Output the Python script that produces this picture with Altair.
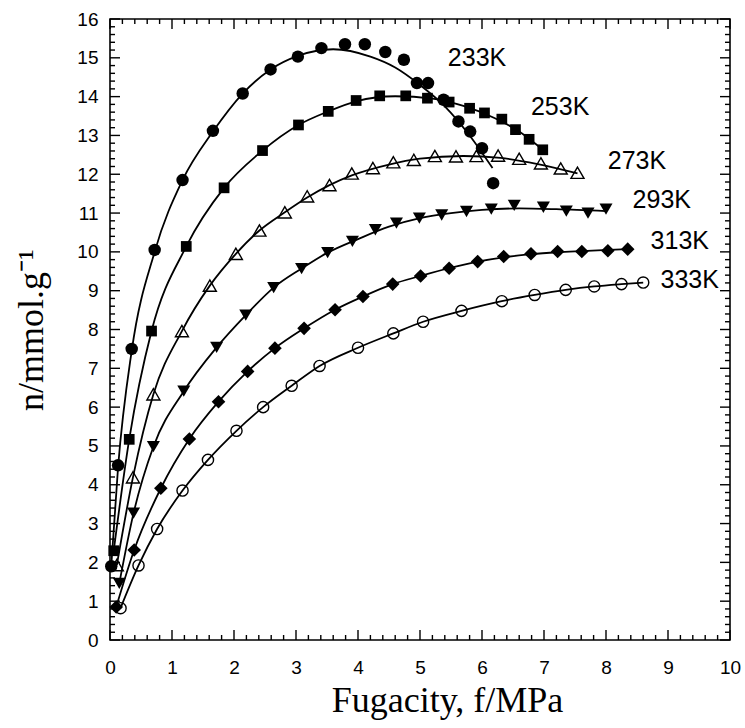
import altair as alt
import pandas as pd

# Adsorption isotherms: excess amount adsorbed vs. fugacity at six temperatures
SERIES = ["233K", "253K", "273K", "293K", "313K", "333K"]

F_233 = [0.02, 0.13, 0.35, 0.72, 1.17, 1.66, 2.14, 2.59, 3.03, 3.41, 3.79, 4.11, 4.44, 4.74, 4.95, 5.13, 5.38, 5.62, 5.81, 6.0, 6.18]
N_233 = [1.9, 4.5, 7.5, 10.05, 11.85, 13.12, 14.08, 14.7, 15.03, 15.25, 15.35, 15.35, 15.15, 14.95, 14.35, 14.35, 13.92, 13.36, 13.1, 12.67, 11.77]

F_253 = [0.06, 0.31, 0.67, 1.23, 1.84, 2.46, 3.04, 3.52, 3.97, 4.35, 4.77, 5.12, 5.47, 5.8, 6.04, 6.32, 6.54, 6.76, 6.98]
N_253 = [2.3, 5.17, 7.96, 10.14, 11.65, 12.61, 13.27, 13.62, 13.9, 14.02, 14.02, 13.96, 13.86, 13.7, 13.58, 13.42, 13.15, 12.9, 12.63]

F_273 = [0.11, 0.37, 0.7, 1.16, 1.61, 2.03, 2.41, 2.82, 3.18, 3.54, 3.9, 4.24, 4.57, 4.9, 5.24, 5.58, 5.91, 6.26, 6.6, 6.95, 7.27, 7.54]
N_273 = [1.93, 4.19, 6.33, 7.96, 9.13, 9.95, 10.55, 11.02, 11.43, 11.72, 12.02, 12.16, 12.31, 12.37, 12.47, 12.46, 12.47, 12.48, 12.4, 12.28, 12.15, 12.04]

F_293 = [0.15, 0.38, 0.7, 1.19, 1.72, 2.19, 2.64, 3.09, 3.51, 3.91, 4.28, 4.62, 4.99, 5.35, 5.75, 6.15, 6.52, 6.99, 7.36, 7.71, 8.0]
N_293 = [1.46, 3.27, 4.98, 6.41, 7.54, 8.37, 9.08, 9.57, 9.98, 10.27, 10.57, 10.74, 10.87, 10.95, 11.04, 11.1, 11.2, 11.15, 11.05, 11.0, 11.1]

F_313 = [0.1, 0.39, 0.82, 1.28, 1.75, 2.22, 2.66, 3.13, 3.63, 4.08, 4.56, 5.01, 5.47, 5.93, 6.35, 6.79, 7.22, 7.61, 8.03, 8.35]
N_313 = [0.85, 2.32, 3.91, 5.18, 6.14, 6.92, 7.52, 8.03, 8.51, 8.85, 9.17, 9.38, 9.58, 9.75, 9.88, 9.95, 10.01, 10.01, 10.03, 10.07]

F_333 = [0.17, 0.46, 0.76, 1.17, 1.58, 2.04, 2.47, 2.93, 3.38, 4.0, 4.57, 5.05, 5.67, 6.32, 6.85, 7.35, 7.81, 8.25, 8.6]
N_333 = [0.82, 1.92, 2.86, 3.85, 4.64, 5.39, 6.0, 6.55, 7.06, 7.53, 7.9, 8.2, 8.48, 8.73, 8.89, 9.02, 9.11, 9.17, 9.21]

# Smooth fitted curves, one per temperature
FIT_233_F = [0.02, 0.13, 0.35, 0.72, 1.17, 1.66, 2.14, 2.59, 3.03, 3.6, 4.2, 4.6, 5.0, 5.4, 5.8, 6.17]
FIT_233_N = [1.9, 4.45, 7.45, 10.0, 11.85, 13.1, 14.08, 14.7, 15.05, 15.22, 15.03, 14.75, 14.3, 13.75, 13.0, 12.16]

FIT_253_F = [0.06, 0.31, 0.67, 1.23, 1.84, 2.46, 3.04, 3.52, 3.97, 4.6, 5.2, 5.7, 6.2, 6.6, 6.98]
FIT_253_N = [2.3, 5.17, 7.96, 10.14, 11.65, 12.61, 13.27, 13.62, 13.88, 14.01, 13.95, 13.76, 13.45, 13.1, 12.63]

FIT_273_F = [0.11, 0.37, 0.7, 1.16, 1.61, 2.03, 2.41, 2.82, 3.18, 3.54, 3.9, 4.5, 5.0, 5.7, 6.3, 6.9, 7.54]
FIT_273_N = [1.93, 4.19, 6.33, 7.96, 9.13, 9.95, 10.55, 11.02, 11.4, 11.72, 11.97, 12.25, 12.4, 12.47, 12.42, 12.26, 12.02]

FIT_293_F = [0.15, 0.38, 0.7, 1.19, 1.72, 2.19, 2.64, 3.09, 3.51, 4.0, 4.5, 5.0, 5.5, 6.0, 6.6, 7.2, 8.0]
FIT_293_N = [1.46, 3.27, 4.98, 6.41, 7.54, 8.37, 9.08, 9.57, 9.98, 10.33, 10.65, 10.87, 11.0, 11.08, 11.12, 11.1, 11.05]

FIT_313_F = [0.1, 0.39, 0.82, 1.28, 1.75, 2.22, 2.66, 3.13, 3.63, 4.08, 4.56, 5.01, 5.47, 5.93, 6.35, 6.79, 7.22, 7.61, 8.03, 8.35]
FIT_313_N = [0.85, 2.32, 3.91, 5.18, 6.14, 6.92, 7.52, 8.03, 8.51, 8.85, 9.17, 9.38, 9.58, 9.75, 9.86, 9.94, 9.99, 10.02, 10.05, 10.07]

FIT_333_F = F_333
FIT_333_N = N_333

# Series labels placed inside the plot
LABEL_F = [5.92, 7.26, 8.5, 8.9, 9.19, 9.35]
LABEL_N = [15.0, 13.74, 12.35, 11.34, 10.28, 9.28]

X_MAJOR = list(range(0, 11))
Y_MAJOR = list(range(0, 17))
X_MINOR = [round(i * 0.2, 1) for i in range(0, 51) if i % 5]
Y_MINOR = [round(i * 0.2, 1) for i in range(0, 81) if i % 5]

W, H = 620, 621
X_DOM, Y_DOM = (0, 10), (0, 16)

measured = {
    "233K": (F_233, N_233),
    "253K": (F_253, N_253),
    "273K": (F_273, N_273),
    "293K": (F_293, N_293),
    "313K": (F_313, N_313),
    "333K": (F_333, N_333),
}
fits = {
    "233K": (FIT_233_F, FIT_233_N),
    "253K": (FIT_253_F, FIT_253_N),
    "273K": (FIT_273_F, FIT_273_N),
    "293K": (FIT_293_F, FIT_293_N),
    "313K": (FIT_313_F, FIT_313_N),
    "333K": (FIT_333_F, FIT_333_N),
}

pts = pd.DataFrame(
    [(s, f, n) for s in SERIES for f, n in zip(*measured[s])],
    columns=["series", "f", "n"],
)
curves = pd.DataFrame(
    [(s, f, n) for s in SERIES for f, n in zip(*fits[s])],
    columns=["series", "f", "n"],
)
labels = pd.DataFrame({"series": SERIES, "f": LABEL_F, "n": LABEL_N})

XS = alt.Scale(domain=list(X_DOM), nice=False, zero=False)
YS = alt.Scale(domain=list(Y_DOM), nice=False, zero=False)

TITLE_FONT = "Liberation Serif"
LABEL_FONT = "Liberation Sans"

# Tick lengths in pixels, converted to data units along the crossing axis
PX_X = (X_DOM[1] - X_DOM[0]) / W
PX_Y = (Y_DOM[1] - Y_DOM[0]) / H


def tick_table(vals, lo, hi, inward):
    """Segments [lo, lo+inward] and [hi-inward, hi] at each tick value."""
    rows = []
    for v in vals:
        rows.append((v, lo, lo + inward))
        rows.append((v, hi - inward, hi))
    return pd.DataFrame(rows, columns=["v", "a", "b"])


def x_ticks(vals, length):
    d = tick_table(vals, Y_DOM[0], Y_DOM[1], length * PX_Y)
    return alt.Chart(d).mark_rule(color="black", strokeWidth=1.4).encode(
        x=alt.X("v:Q", scale=XS, axis=None),
        y=alt.Y("a:Q", scale=YS, axis=None),
        y2="b:Q",
    )


def y_ticks(vals, length):
    d = tick_table(vals, X_DOM[0], X_DOM[1], length * PX_X)
    return alt.Chart(d).mark_rule(color="black", strokeWidth=1.4).encode(
        y=alt.Y("v:Q", scale=YS, axis=None),
        x=alt.X("a:Q", scale=XS, axis=None),
        x2="b:Q",
    )


tick_marks = [x_ticks(X_MAJOR, 10), x_ticks(X_MINOR, 5), y_ticks(Y_MAJOR, 10), y_ticks(Y_MINOR, 5)]

# Fitted lines carry the labelled axes (bottom, left)
lines = alt.Chart(curves).mark_line(
    color="black", strokeWidth=1.8, interpolate="monotone"
).encode(
    x=alt.X("f:Q", scale=XS, axis=alt.Axis(
        orient="bottom", values=X_MAJOR, ticks=False, domain=False, grid=False,
        labelFlush=False, labelFont=LABEL_FONT, labelFontSize=19, labelColor="black",
        labelPadding=18, title="Fugacity, f/MPa", titleFont=TITLE_FONT,
        titleFontSize=36, titleFontWeight="normal", titleColor="black",
        titlePadding=6, titleX=337,
    )),
    y=alt.Y("n:Q", scale=YS, axis=alt.Axis(
        orient="left", values=Y_MAJOR, ticks=False, domain=False, grid=False,
        labelFlush=False, labelFont=LABEL_FONT, labelFontSize=19, labelColor="black",
        labelPadding=12, title="n/mmol.g⁻¹", titleFont=TITLE_FONT,
        titleFontSize=36, titleFontWeight="normal", titleColor="black",
        titlePadding=26,
    )),
    detail="series:N",
)

# Marker style per temperature
styles = {
    "233K": dict(shape="circle", filled=True, size=155),
    "253K": dict(shape="square", filled=True, size=115),
    "273K": dict(shape="triangle-up", filled=False, size=170),
    "293K": dict(shape="triangle-down", filled=True, size=170),
    "313K": dict(shape="diamond", filled=True, size=185),
    "333K": dict(shape="circle", filled=False, size=125),
}

point_layers = []
for s in SERIES:
    st = styles[s]
    point_layers.append(
        alt.Chart(pts[pts.series == s]).mark_point(
            shape=st["shape"], filled=st["filled"], size=st["size"],
            color="black", opacity=1, strokeWidth=1.4,
        ).encode(
            x=alt.X("f:Q", scale=XS, axis=None),
            y=alt.Y("n:Q", scale=YS, axis=None),
        )
    )

text = alt.Chart(labels).mark_text(
    font=LABEL_FONT, fontSize=25, color="black", align="center", baseline="middle"
).encode(
    x=alt.X("f:Q", scale=XS, axis=None),
    y=alt.Y("n:Q", scale=YS, axis=None),
    text="series:N",
)

chart = alt.layer(lines, *tick_marks, *point_layers, text).resolve_axis(
    x="independent", y="independent"
).properties(
    width=W,
    height=H,
    autosize=alt.AutoSizeParams(type="none"),
    padding={"left": 110, "top": 19, "right": 15, "bottom": 88},
    background="white",
).configure_view(
    stroke="black", strokeWidth=1.6
)

chart.save("out.html", embed_options={"renderer": "svg", "actions": False})
